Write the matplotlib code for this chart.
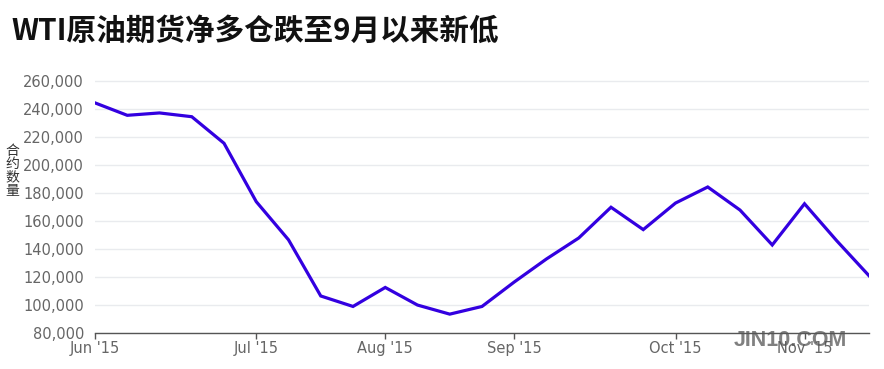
import matplotlib
matplotlib.use("Agg")
import matplotlib.pyplot as plt
from matplotlib.ticker import FuncFormatter, FixedLocator

# Weekly net long positions (contracts), Jun 2015 - Nov 2015
weeks = ["2015-06-02", "2015-06-09", "2015-06-16", "2015-06-23", "2015-06-30",
         "2015-07-07", "2015-07-14", "2015-07-21", "2015-07-28",
         "2015-08-04", "2015-08-11", "2015-08-18", "2015-08-25",
         "2015-09-01", "2015-09-08", "2015-09-15", "2015-09-22", "2015-09-29",
         "2015-10-06", "2015-10-13", "2015-10-20", "2015-10-27",
         "2015-11-03", "2015-11-10", "2015-11-17"]
net_long = [244700, 235800, 237500, 234800, 215800,
            174000, 146700, 106500, 99000,
            112600, 100000, 93500, 99000,
            116500, 133000, 148000, 170000, 154000,
            173000, 184500, 168000, 143000,
            172500, 146000, 121000]
tick_idx = [0, 5, 9, 13, 18, 22]
tick_labels = ["Jun '15", "Jul '15", "Aug '15", "Sep '15", "Oct '15", "Nov '15"]
y_ticks = [80000, 100000, 120000, 140000, 160000, 180000, 200000, 220000, 240000, 260000]

title = "WTI原油期货净多仓跌至9月以来新低"
ylabel = "合约数量"
watermark = "JIN10.COM"

fig = plt.figure(figsize=(8.84, 3.69), dpi=100)
ax = fig.add_axes([95/884, 36/369, (869-95)/884, (369-36-80.1)/369])

x = list(range(len(weeks)))
ax.plot(x, net_long, color="#3300e0", lw=2.3, solid_joinstyle="miter", zorder=3)

ax.set_xlim(0, len(weeks) - 1)
ax.set_ylim(80000, 261000)
ax.yaxis.set_major_locator(FixedLocator(y_ticks))
ax.yaxis.set_major_formatter(FuncFormatter(lambda v, p: f"{int(v):,}"))
ax.set_xticks(tick_idx)
ax.set_xticklabels(tick_labels)

for s in ["top", "right", "left"]:
    ax.spines[s].set_visible(False)
ax.spines["bottom"].set_color("#555555")
ax.spines["bottom"].set_linewidth(1.0)

ax.grid(axis="y", color="#e9ebee", lw=1.0, zorder=0)
ax.set_axisbelow(True)
ax.tick_params(axis="y", length=0, pad=8, labelsize=10.5, labelcolor="#666666")
ax.tick_params(axis="x", length=4, width=1, color="#555555", pad=2,
               labelsize=10.5, labelcolor="#666666")
for lab in ax.get_xticklabels() + ax.get_yticklabels():
    lab.set_family("DejaVu Sans")

fig.text(11/884, 1 - 31/369, title, fontsize=21.3, fontweight="bold",
         family=["Noto Sans CJK SC", "DejaVu Sans"], color="#111111",
         ha="left", va="center")

fig.text(12/884, 1 - 171/369, "\n".join(ylabel), fontsize=10,
         family=["Noto Sans CJK SC", "DejaVu Sans"], color="#333333",
         ha="center", va="center", linespacing=0.95)

fig.text(790/884, 1 - 341/369, watermark, fontsize=15.5, fontweight="bold",
         family=["Liberation Sans", "DejaVu Sans"], color="#555555", alpha=0.75,
         ha="center", va="center", zorder=10)

fig.savefig("out.png", dpi=100)
